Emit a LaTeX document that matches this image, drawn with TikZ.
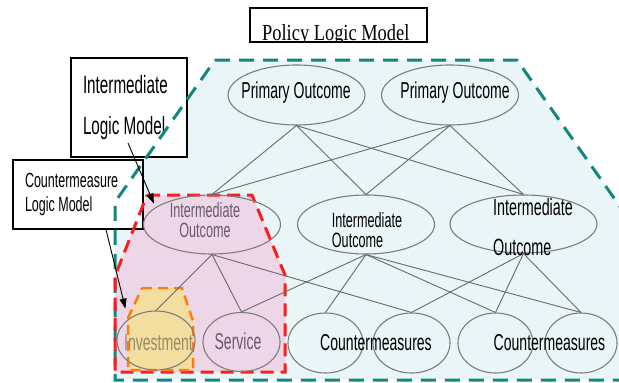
\documentclass[tikz,border=0pt]{standalone}
\usepackage{fontspec}
\setmainfont{Liberation Sans}
\newfontfamily\narrowsans[FakeStretch=0.61]{Liberation Sans}
\newfontfamily\narrowserif[FakeStretch=0.8]{Liberation Serif}
\usetikzlibrary{calc}
\usetikzlibrary{arrows.meta}
\usepgflibrary{shapes.geometric}
\definecolor{policyteal}{RGB}{20,135,125}
\definecolor{policyfill}{RGB}{234,245,247}
\definecolor{interred}{RGB}{250,30,30}
\definecolor{interfill}{RGB}{238,214,233}
\definecolor{counterorange}{RGB}{250,125,20}
\definecolor{counterfill}{RGB}{243,222,160}
\definecolor{rimgray}{RGB}{125,125,125}
\definecolor{linkgray}{RGB}{105,105,105}
\definecolor{mauvetext}{RGB}{105,90,105}
\definecolor{olivetext}{RGB}{150,140,105}
\def\ow{137pt}
\def\oh{60pt}
\def\cw{77pt}
\def\ch{59pt}
\newcommand\nsans[2]{\narrowsans\fontsize{#1}{#2}\selectfont\spaceskip=0.17em}
\tikzset{
    outcome/.style = {
        draw=rimgray, ellipse, line width=1.1pt, inner sep=0pt, minimum width=\ow, minimum height=\oh
    },
    measure/.style = {
        outcome, minimum width=\cw, minimum height=\ch
    },
    lbl/.style = {
        inner sep=0pt, font=\nsans{23}{23}
    },
    link/.style = {draw=linkgray, line width=0.9pt},
    callout/.style = {
        draw, rectangle, fill=white, line width=1.1pt, inner xsep=12pt, inner ysep=0pt, align=left,
        execute at begin node={\spaceskip=0.17em\relax}
    },
    pointer/.style = {-{Triangle[length=10pt,width=7pt]}, line width=0.9pt},
}
\begin{document}
\begin{tikzpicture}[x=1pt, y=-1pt]
        \useasboundingbox (0,0) rectangle (619,383);
        % Corners of the regions
        \coordinate (pl1) at (215,60);   \coordinate (pl2) at (517,60);
        \coordinate (pl3) at (621,208);  \coordinate (pl4) at (621,380);
        \coordinate (pl5) at (115,380);  \coordinate (pl6) at (115,202);
        \coordinate (il1) at (147,195);  \coordinate (il2) at (252,195);
        \coordinate (il3) at (285,275);  \coordinate (il4) at (285,372);
        \coordinate (il5) at (115,372);  \coordinate (il6) at (115,276);
        \coordinate (cl1) at (142,288);  \coordinate (cl2) at (182,288);
        \coordinate (cl3) at (193,321);  \coordinate (cl4) at (193,370);
        \coordinate (cl5) at (128,370);  \coordinate (cl6) at (128,318);
        % Fill the regions
        \fill[policyfill] (pl1) -- (pl2) -- (pl3) -- (pl4) -- (pl5) -- (pl6) -- cycle;
        \fill[interfill] (il1) -- (il2) -- (il3) -- (il4) -- (il5) -- (il6) -- cycle;
        \fill[counterfill] (cl1) -- (cl2) -- (cl3) -- (cl4) -- (cl5) -- (cl6) -- cycle;
        % Place the boxes
        \node[callout, minimum width=177pt, minimum height=34pt] (title) at (338.5,25) {};
        \begin{scope}
            \clip (title.south west) rectangle (title.north east);
            \node[anchor=base west, inner sep=0pt, font=\narrowserif\fontsize{23}{23}\selectfont] (titletxt) at (262,40) {Policy Logic Model};
        \end{scope}
        \node[callout, text width=92pt, minimum height=99pt, font=\nsans{25}{41}] (ilm) at (129,107.5) {Intermediate\\Logic Model};
        \node[callout, text width=106pt, minimum height=69pt, font=\nsans{20.5}{24}] (clm) at (78,194.5) {Countermeasure\\Logic Model};
        % Dashed borders
        \draw[policyteal, line width=3pt, dash pattern=on 15pt off 9pt] (pl1) -- (pl2) -- (pl3) -- (pl4) -- (pl5) -- (pl6) -- cycle;
        \draw[interred, line width=3pt, dash pattern=on 13pt off 7pt] (il1) -- (il2) -- (il3) -- (il4) -- (il5) -- (il6) -- cycle;
        \draw[counterorange, line width=2.5pt, dash pattern=on 10pt off 6pt] (cl1) -- (cl2) -- (cl3) -- (cl4) -- (cl5) -- (cl6) -- cycle;
        % Place the outcomes
        \node[outcome] (po1) at (296.5,95) {};
        \node[outcome] (po2) at (450,95) {};
        \node[outcome, minimum height=59pt] (io1) at (212,224.5) {};
        \node[outcome, minimum height=59pt] (io2) at (366,224.5) {};
        \node[outcome, minimum width=147pt, minimum height=58pt] (io3) at (523.5,224) {};
        \node[measure, minimum width=78pt] (inv) at (156,340.5) {};
        \node[measure] (serv) at (241.5,342) {};
        \node[measure, minimum width=75pt, minimum height=60pt] (cm1) at (325.5,343) {};
        \node[measure, minimum height=60pt] (cm2) at (411.5,343) {};
        \node[measure, minimum width=75pt, minimum height=60pt] (cm3) at (495.5,343) {};
        \node[measure, minimum width=72pt, minimum height=60pt] (cm4) at (581,343) {};
        % Draw connections
        \foreach \p in {po1, po2}{
            \foreach \i in {io1, io2, io3}{
                \draw[link] (\p.south) -- (\i.north);
            }
        }
        \foreach \a/\b in {io1/inv, io1/serv, io1/cm2, io2/serv, io2/cm1, io2/cm3, io2/cm4, io3/cm2, io3/cm3, io3/cm4}{
            \draw[link] (\a.south) -- (\b.north);
        }
        % Texts
        \node[lbl, anchor=base] (po1txt) at (296,98) {Primary Outcome};
        \node[lbl, anchor=base] (po2txt) at (455,98) {Primary Outcome};
        \node[lbl, align=center, text=mauvetext, font=\nsans{20.7}{20}] (io1txt) at (205,220.5) {Intermediate\\Outcome};
        \node[lbl, align=left, font=\nsans{20.7}{20}] (io2txt) at (367,230.5) {Intermediate\\Outcome};
        \node[lbl, align=left, font=\nsans{23.5}{40}] (io3txt) at (533,227.5) {Intermediate\\Outcome};
        \node[lbl, anchor=base, text=olivetext] (invtxt) at (158.5,350) {Investment};
        \node[lbl, anchor=base, text=mauvetext] (servtxt) at (238,349) {Service};
        \node[lbl, anchor=base] (cm12txt) at (376,350) {Countermeasures};
        \node[lbl, anchor=base] (cm34txt) at (549.5,350) {Countermeasures};
        % Pointers
        \coordinate (ilmtail) at (128,143);
        \draw[pointer, shorten >=4pt] (ilmtail) -- (io1.163);
        \draw[pointer, shorten >=11pt] ([xshift=28pt] clm.south) -- (inv.north west);
\end{tikzpicture}
\end{document}
